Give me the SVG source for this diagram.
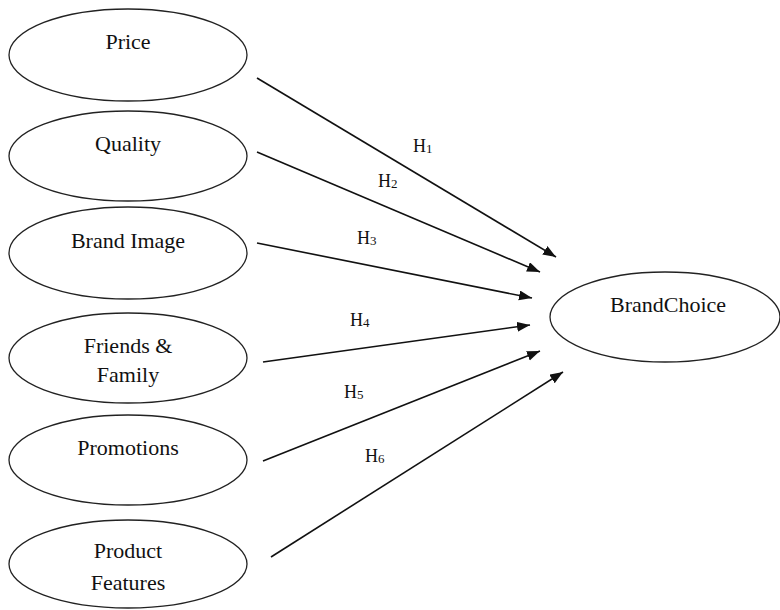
<svg xmlns="http://www.w3.org/2000/svg" width="780" height="610" viewBox="0 0 780 610">
<style>
.n ellipse{fill:#fff;stroke:#222;stroke-width:1.3}
.n text{font-family:"Liberation Serif","Times New Roman",serif;font-size:22px;fill:#111;text-anchor:middle}
.c line{stroke:#111;stroke-width:1.6;marker-end:url(#ah)}
.l text{font-family:"Liberation Serif","Times New Roman",serif;font-size:18px;fill:#111}
.l tspan{font-size:13px}
</style>
<defs>
<marker id="ah" markerUnits="userSpaceOnUse" markerWidth="14" markerHeight="12" refX="13" refY="5" orient="auto">
<path d="M0,0 L13,5 L0,10 Z" fill="#111"/>
</marker>
</defs>
<rect width="780" height="610" fill="#fff"/>
<g class="c" id="connectors">
<line x1="257" y1="78" x2="556" y2="257"/>
<line x1="257" y1="152" x2="540" y2="272"/>
<line x1="257" y1="243" x2="532" y2="298"/>
<line x1="263" y1="362" x2="530" y2="325"/>
<line x1="263" y1="461" x2="540" y2="351"/>
<line x1="271" y1="557" x2="563" y2="372"/>
</g>
<g class="l" id="labels">
<text x="413" y="152">H<tspan dy="1">1</tspan></text>
<text x="378" y="187">H<tspan dy="1">2</tspan></text>
<text x="357" y="244">H<tspan dy="1">3</tspan></text>
<text x="350" y="326">H<tspan dy="1">4</tspan></text>
<text x="344" y="398">H<tspan dy="1">5</tspan></text>
<text x="365" y="462">H<tspan dy="1">6</tspan></text>
</g>
<g class="n" id="price"><ellipse cx="128" cy="55" rx="119" ry="46"/><text x="128" y="49">Price</text></g>
<g class="n" id="quality"><ellipse cx="128" cy="156" rx="119" ry="45"/><text x="128" y="151">Quality</text></g>
<g class="n" id="brandimage"><ellipse cx="128" cy="253" rx="119" ry="46"/><text x="128" y="248">Brand Image</text></g>
<g class="n" id="friends"><ellipse cx="128" cy="358" rx="119" ry="45"/><text x="128" y="353">Friends &amp;</text><text x="128" y="382">Family</text></g>
<g class="n" id="promotions"><ellipse cx="128" cy="460" rx="119" ry="45"/><text x="128" y="455">Promotions</text></g>
<g class="n" id="features"><ellipse cx="128" cy="564" rx="119" ry="44"/><text x="128" y="558">Product</text><text x="128" y="590">Features</text></g>
<g class="n" id="brandchoice"><ellipse cx="665" cy="317" rx="115" ry="45"/><text x="668" y="312">BrandChoice</text></g>
</svg>
